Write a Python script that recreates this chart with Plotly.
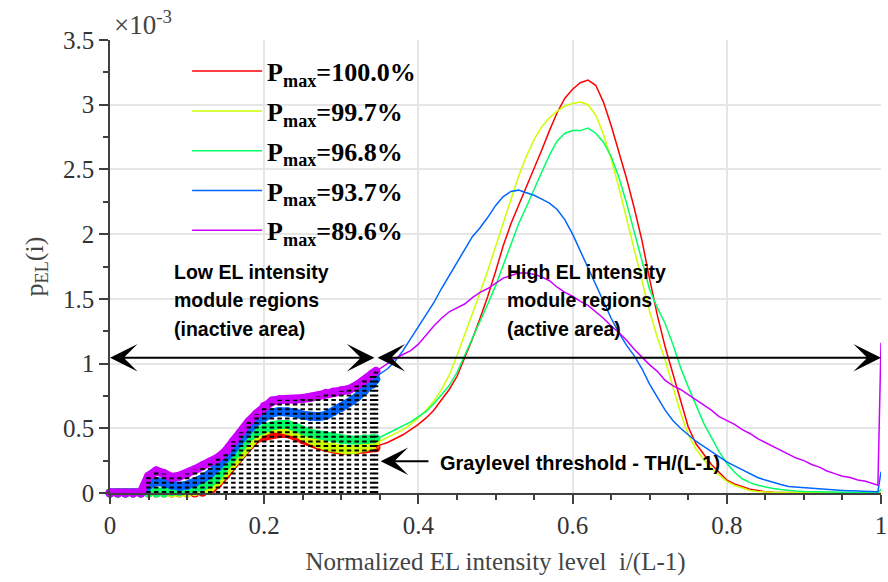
import plotly.graph_objects as go

# Normalized grey levels i/(L-1) sampled from the histogram
levels = [i / 100 for i in range(35)] + [0.345] + [i / 100 for i in range(35, 100)] + [0.996, 1.0]
TH = 0.345  # graylevel threshold TH/(L-1)

# p_EL(i) values in units of 1e-3
red = [0, 0, 0, 0, 0, 0, 0, 0, 0, 0, 0, 0,
       0.005, 0.02, 0.07, 0.14, 0.22, 0.30, 0.36, 0.42, 0.44, 0.45, 0.46, 0.46, 0.44, 0.41,
       0.39, 0.37, 0.35, 0.34, 0.33, 0.33, 0.33, 0.34, 0.35,
       0.35,
       0.37, 0.39, 0.42, 0.45, 0.49, 0.53, 0.58, 0.64, 0.72, 0.80, 0.90, 1.04, 1.19, 1.35, 1.52,
       1.71, 1.91, 2.08, 2.22, 2.37, 2.50, 2.65, 2.80, 2.94, 3.05, 3.12, 3.17, 3.19, 3.15, 3.02,
       2.84, 2.64, 2.43, 2.20, 1.95, 1.65, 1.37, 1.13, 0.92, 0.70, 0.51, 0.38, 0.30, 0.22, 0.16,
       0.10, 0.07, 0.05, 0.03, 0.02, 0.01, 0.006, 0.004, 0.003, 0.002, 0.002,
       0.001, 0.001, 0.001, 0.001, 0.001, 0.001, 0.001, 0.001, 0.001,
       0.001, 0.002]
yellow = [0, 0, 0, 0, 0, 0, 0, 0, 0, 0, 0,
          0.01, 0.02, 0.04, 0.09, 0.16, 0.24, 0.32, 0.39, 0.44, 0.48, 0.50, 0.50, 0.49, 0.47,
          0.44, 0.41, 0.38, 0.36, 0.35, 0.34, 0.33, 0.34, 0.35, 0.37,
          0.38,
          0.40, 0.43, 0.46, 0.49, 0.53, 0.58, 0.64, 0.71, 0.80, 0.91, 1.06, 1.22, 1.38, 1.55, 1.72,
          1.90, 2.08, 2.26, 2.45, 2.60, 2.73, 2.83, 2.90, 2.95, 2.99, 3.01, 3.02, 3.00, 2.92, 2.77,
          2.58, 2.36, 2.13, 1.88, 1.64, 1.40, 1.20, 1.03, 0.82, 0.62, 0.45, 0.34, 0.26, 0.19, 0.14,
          0.09, 0.06, 0.04, 0.02, 0.012, 0.007, 0.004, 0.003, 0.002, 0.002, 0.001,
          0.001, 0.001, 0.001, 0.001, 0.001, 0.001, 0.001, 0.001, 0.001,
          0.001, 0.002]
green = [0, 0, 0, 0, 0, 0, 0, 0,
         0.01, 0.01, 0.02, 0.03, 0.05, 0.08, 0.13, 0.21, 0.29, 0.37, 0.43, 0.47, 0.50, 0.52, 0.53,
         0.53, 0.51, 0.48, 0.46, 0.45, 0.44, 0.42, 0.41, 0.41, 0.41, 0.42, 0.42,
         0.42,
         0.43, 0.46, 0.49, 0.52, 0.55, 0.59, 0.63, 0.69, 0.76, 0.83, 0.93, 1.06, 1.20, 1.33, 1.46,
         1.60, 1.76, 1.93, 2.08, 2.21, 2.35, 2.48, 2.61, 2.72, 2.78, 2.80, 2.80, 2.82, 2.78, 2.71,
         2.60, 2.44, 2.24, 2.02, 1.78, 1.57, 1.43, 1.31, 1.15, 0.97, 0.82, 0.68, 0.54, 0.43, 0.32,
         0.23, 0.16, 0.11, 0.08, 0.06, 0.045, 0.035, 0.027, 0.02, 0.015, 0.012,
         0.01, 0.008, 0.006, 0.005, 0.004, 0.003, 0.003, 0.002, 0.002,
         0.002, 0.03]
blue = [0, 0, 0, 0, 0,
        0.06, 0.09, 0.08, 0.06, 0.05, 0.06, 0.08, 0.11, 0.15, 0.20, 0.27, 0.34, 0.42, 0.49, 0.55,
        0.59, 0.62, 0.63, 0.63, 0.62, 0.60, 0.59, 0.59, 0.60, 0.63, 0.66, 0.70, 0.74, 0.79, 0.84,
        0.88,
        0.92, 0.96, 1.02, 1.10, 1.19, 1.28, 1.37, 1.47, 1.58, 1.68, 1.79, 1.88, 1.98, 2.05, 2.13,
        2.22, 2.29, 2.33, 2.34, 2.32, 2.30, 2.27, 2.24, 2.19, 2.11, 2.00, 1.87, 1.75, 1.62, 1.48,
        1.35, 1.24, 1.14, 1.06, 0.96, 0.84, 0.74, 0.64, 0.56, 0.50, 0.45, 0.40, 0.36, 0.32, 0.28,
        0.24, 0.21, 0.18, 0.15, 0.12, 0.10, 0.08, 0.065, 0.05, 0.045, 0.04,
        0.035, 0.03, 0.025, 0.022, 0.02, 0.017, 0.015, 0.012, 0.01,
        0.01, 0.165]
purple = [0, 0, 0, 0, 0,
          0.13, 0.17, 0.15, 0.12, 0.13, 0.15, 0.18, 0.21, 0.24, 0.27, 0.32, 0.40, 0.47, 0.55, 0.61,
          0.67, 0.71, 0.72, 0.72, 0.72, 0.73, 0.74, 0.75, 0.77, 0.78, 0.79, 0.80, 0.83, 0.87, 0.92,
          0.94,
          0.96, 1.00, 1.04, 1.07, 1.10, 1.15, 1.22, 1.29, 1.35, 1.40, 1.43, 1.46, 1.51, 1.55, 1.58,
          1.62, 1.66, 1.68, 1.70, 1.70, 1.69, 1.67, 1.64, 1.59, 1.55, 1.52, 1.48, 1.45, 1.40, 1.35,
          1.29, 1.24, 1.18, 1.11, 1.05, 0.99, 0.94, 0.87, 0.83, 0.80, 0.76, 0.72, 0.68, 0.64, 0.59,
          0.56, 0.53, 0.49, 0.46, 0.42, 0.39, 0.36, 0.33, 0.30, 0.27, 0.25,
          0.22, 0.20, 0.17, 0.15, 0.13, 0.12, 0.10, 0.09, 0.07,
          0.06, 1.16]

series = [red, yellow, green, blue, purple]
names = ["P<sub>max</sub>=100.0%", "P<sub>max</sub>=99.7%", "P<sub>max</sub>=96.8%",
         "P<sub>max</sub>=93.7%", "P<sub>max</sub>=89.6%"]
colors = ["#ff0000", "#ccff00", "#00ff66", "#0066ff", "#cc00ff"]

x_ticks = [0, 0.2, 0.4, 0.6, 0.8, 1]
x_ticktext = ["0", "0.2", "0.4", "0.6", "0.8", "1"]
y_ticks = [0, 0.5, 1, 1.5, 2, 2.5, 3, 3.5]
y_ticktext = ["0", "0.5", "1", "1.5", "2", "2.5", "3", "3.5"]

low_idx = [i for i, v in enumerate(levels) if v <= TH]
high_idx = [i for i, v in enumerate(levels) if v >= TH]

fig = go.Figure()

# thick marker bands in the low-intensity (inactive) region
for s, c in zip(series, colors):
    fig.add_trace(go.Scatter(
        x=[levels[i] for i in low_idx], y=[s[i] for i in low_idx],
        mode="lines+markers", line=dict(color=c, width=9),
        marker=dict(color=c, size=9), cliponaxis=False, showlegend=False,
        hoverinfo="skip"))

# dotted stems under the histogram in the inactive region
stem_x, stem_y = [], []
for i in low_idx:
    topv = max(s[i] for s in series)
    if topv > 0:
        stem_x += [levels[i], levels[i], None]
        stem_y += [0, topv, None]
fig.add_trace(go.Scatter(
    x=stem_x, y=stem_y, mode="lines",
    line=dict(color="black", width=4.5, dash="2px,2.6px"),
    showlegend=False, hoverinfo="skip"))

# thin lines in the high-intensity region (with legend)
for k, (s, c, n) in enumerate(zip(series, colors, names)):
    fig.add_trace(go.Scatter(
        x=[levels[i] for i in high_idx], y=[s[i] for i in high_idx],
        mode="lines", line=dict(color=c, width=1.5), name=n, legendgroup=str(k)))

axis_col = "#404040"
tick_font = dict(family="Liberation Serif", size=25, color="#333333")

fig.update_layout(
    width=888, height=582,
    margin=dict(l=110, r=7, t=40, b=89),
    plot_bgcolor="white", paper_bgcolor="white",
    showlegend=True,
    legend=dict(x=0.10, y=0.983, xanchor="left", yanchor="top",
                font=dict(family="Liberation Serif", size=26, color="black", weight="bold"),
                bgcolor="rgba(0,0,0,0)", borderwidth=0, tracegroupgap=3,
                itemwidth=70, traceorder="grouped"),
    xaxis=dict(range=[0, 1], tickvals=x_ticks, ticktext=x_ticktext, automargin=False,
               ticks="outside", ticklen=9, tickwidth=1.5, tickcolor=axis_col,
               showline=True, linecolor=axis_col, linewidth=1.5,
               showgrid=True, gridcolor="#e6e6e6", gridwidth=1.5, zeroline=False,
               minor=dict(dtick=0.05, tick0=0, ticks="outside", ticklen=5,
                          tickwidth=1.5, tickcolor=axis_col, showgrid=False),
               tickfont=tick_font,
               title=dict(text="Normalized EL intensity level\u00a0 i/(L-1)",
                          font=dict(family="Liberation Serif", size=25, color="#444444"),
                          standoff=15)),
    yaxis=dict(range=[0, 3.5], tickvals=y_ticks, ticktext=y_ticktext, automargin=False,
               ticks="outside", ticklen=9, tickwidth=1.5, tickcolor=axis_col,
               showline=True, linecolor=axis_col, linewidth=1.5,
               showgrid=True, gridcolor="#e6e6e6", gridwidth=1.5, zeroline=False,
               minor=dict(dtick=0.25, tick0=0, ticks="outside", ticklen=5,
                          tickwidth=1.5, tickcolor=axis_col, showgrid=False),
               tickfont=tick_font,
               title=dict(text="p<sub>EL</sub>(i)",
                          font=dict(family="Liberation Serif", size=26, color="#444444"),
                          standoff=12)),
)

arrow_common = dict(xref="x", yref="y", axref="x", ayref="y", text="", showarrow=True,
                    arrowhead=3, startarrowhead=3, arrowwidth=2, arrowsize=2.3,
                    startarrowsize=2.3, arrowcolor="black", standoff=0, startstandoff=0)
fig.add_annotation(x=0, y=1.045, ax=TH, ay=1.045, arrowside="end+start", **arrow_common)
fig.add_annotation(x=1, y=1.045, ax=TH, ay=1.045, arrowside="end+start", **arrow_common)
fig.add_annotation(x=0.351, y=0.245, ax=0.415, ay=0.245, arrowside="end", **arrow_common)

lab_font = dict(family="Liberation Sans", size=19.5, color="black", weight="bold")
left_lines = ["Low EL intensity", "module regions", "(inactive area)"]
right_lines = ["High EL intensity", "module regions", "(active area)"]
line_y = [1.71, 1.49, 1.27]
for t, yy in zip(left_lines, line_y):
    fig.add_annotation(x=0.081, y=yy, xref="x", yref="y", text=t, showarrow=False,
                       xanchor="left", yanchor="middle", font=lab_font)
for t, yy in zip(right_lines, line_y):
    fig.add_annotation(x=0.512, y=yy, xref="x", yref="y", text=t, showarrow=False,
                       xanchor="left", yanchor="middle", font=lab_font)
fig.add_annotation(x=0.425, y=0.235, xref="x", yref="y", text="Graylevel threshold - TH/(L-1)",
                   showarrow=False, xanchor="left", yanchor="middle",
                   font=dict(family="Liberation Sans", size=20, color="black", weight="bold"))

fig.add_annotation(x=0.002, y=0.995, xref="paper", yref="paper", text="\u00d710<sup>-3</sup>",
                   showarrow=False, xanchor="left", yanchor="bottom",
                   font=dict(family="Liberation Serif", size=27, color="#444444"))

fig.write_html("out.html")
